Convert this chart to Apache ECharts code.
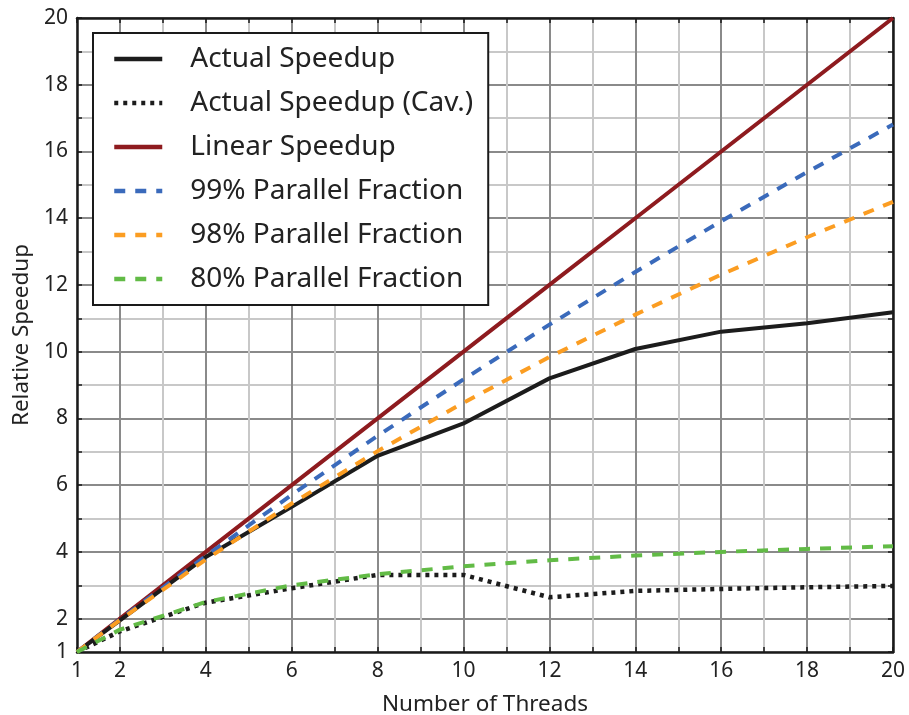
<!DOCTYPE html>
<html>
<head>
<meta charset="utf-8">
<script src="https://cdn.jsdelivr.net/npm/echarts@6/dist/echarts.min.js"></script>
<style>html,body{margin:0;padding:0;background:#fff;}#c{width:909px;height:715px;}</style>
</head>
<body>
<div id="c"></div>
<script>
const threads = [1, 2, 4, 6, 8, 10, 12, 14, 16, 18, 20];
const actual = [1, 1.95, 3.85, 5.35, 6.88, 7.85, 9.2, 10.08, 10.6, 10.85, 11.18];
const actualCav = [1, 1.62, 2.48, 2.91, 3.31, 3.31, 2.64, 2.83, 2.89, 2.94, 2.98];
const linear = [1, 2, 4, 6, 8, 10, 12, 14, 16, 18, 20];
const p99 = [1, 1.98, 3.88, 5.71, 7.48, 9.17, 10.81, 12.39, 13.91, 15.38, 16.81];
const p98 = [1, 1.96, 3.77, 5.45, 7.02, 8.47, 9.84, 11.11, 12.31, 13.43, 14.49];
const p80 = [1, 1.67, 2.5, 3.0, 3.33, 3.57, 3.75, 3.89, 4.0, 4.09, 4.17];
const xTickLabels = [1, 2, 4, 6, 8, 10, 12, 14, 16, 18, 20];
const yTickLabels = [1, 2, 4, 6, 8, 10, 12, 14, 16, 18, 20];
const names = ['Actual Speedup', 'Actual Speedup (Cav.)', 'Linear Speedup', '99% Parallel Fraction', '98% Parallel Fraction', '80% Parallel Fraction'];

const FONT = 'Noto Sans';
const pair = ys => threads.map((t, i) => [t, ys[i]]);
const gridColors = ['#c8c8c8', '#8a8a8a'];

function baseAxis(labels, show) {
  return {
    type: 'value', min: 1, max: 20, interval: 1,
    axisLine: { show: true, onZero: false, lineStyle: { color: '#1a1a1a', width: 2.5 } },
    axisTick: { show: true, inside: true, length: 5, lineStyle: { color: '#1a1a1a', width: 1.5 } },
    axisLabel: {
      show: show, fontFamily: FONT, fontSize: 21, color: '#222', margin: 9,
      formatter: v => labels.indexOf(v) >= 0 ? String(v) : ''
    },
    splitLine: { show: show, lineStyle: { color: gridColors, width: 2 } }
  };
}

const xMain = baseAxis(xTickLabels, true);
xMain.name = 'Number of Threads';
xMain.nameLocation = 'middle';
xMain.nameGap = 41;
xMain.nameTextStyle = { fontFamily: FONT, fontSize: 22.5, color: '#222' };
const yMain = baseAxis(yTickLabels, true);
yMain.name = 'Relative Speedup';
yMain.nameLocation = 'middle';
yMain.nameGap = 44;
yMain.nameTextStyle = { fontFamily: FONT, fontSize: 22.5, color: '#222' };
const xTop = baseAxis(xTickLabels, false); xTop.position = 'top';
const yRight = baseAxis(yTickLabels, false); yRight.position = 'right';

function line(name, ys, color, type, width, z) {
  return {
    name: name, type: 'line', data: pair(ys), symbol: 'none', z: z,
    lineStyle: { color: color, width: width, type: type, cap: 'butt' },
    itemStyle: { color: color }
  };
}

const chart = echarts.init(document.getElementById('c'), null, { renderer: 'canvas' });
chart.setOption({
  animation: false,
  backgroundColor: '#fff',
  grid: { left: 77, right: 16, top: 18, bottom: 63, containLabel: false, outerBoundsMode: 'none' },
  xAxis: [xMain, xTop],
  yAxis: [yMain, yRight],
  legend: {
    data: names, orient: 'vertical', left: 93, top: 33,
    backgroundColor: '#fff', borderColor: '#1a1a1a', borderWidth: 2,
    padding: [12, 15, 12, 19], itemWidth: 48, itemHeight: 24, itemGap: 16,
    itemStyle: { opacity: 0 },
    lineStyle: { width: 4.5 },
    textStyle: { fontFamily: FONT, fontSize: 28, color: '#222', padding: [0, 0, 0, 23] }
  },
  series: [
    line(names[2], linear, '#8e1b1f', 'solid', 4, 2),
    line(names[0], actual, '#1c1c1c', 'solid', 4, 3),
    line(names[1], actualCav, '#1c1c1c', [4, 5], 4.5, 3),
    line(names[3], p99, '#3a6abb', [11, 10], 4, 4),
    line(names[4], p98, '#fb9d22', [11, 10], 4, 4),
    line(names[5], p80, '#62bb46', [11, 10], 4, 4)
  ]
});
</script>
</body>
</html>
